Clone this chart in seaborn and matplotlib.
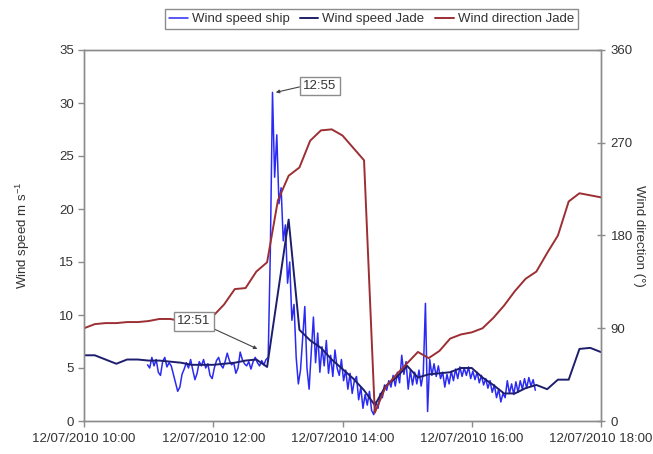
import matplotlib
matplotlib.use("Agg")
import matplotlib.pyplot as plt
import matplotlib.dates as mdates
import pandas as pd
import seaborn as sns

# --- data ---
day = "2010-07-12 "

jade_speed_times = ["10:00", "10:10", "10:20", "10:30", "10:40", "10:50",
                    "11:00", "11:10", "11:20", "11:30", "11:40", "11:50",
                    "12:00", "12:10", "12:20", "12:30", "12:40", "12:50",
                    "13:10", "13:20", "13:30", "13:40", "13:50",
                    "14:00", "14:10", "14:20", "14:30", "14:40", "14:50",
                    "15:00", "15:10", "15:20", "15:30", "15:40", "15:50",
                    "16:00", "16:10", "16:20", "16:30", "16:40", "16:50",
                    "17:00", "17:10", "17:20", "17:30", "17:40", "17:50", "18:00"]
jade_speed = [6.2, 6.2, 5.8, 5.4, 5.8, 5.8,
              5.7, 5.7, 5.6, 5.5, 5.3, 5.3,
              5.3, 5.4, 5.5, 5.7, 5.8, 5.1,
              19.0, 8.6, 7.6, 6.9, 5.8,
              4.9, 4.0, 2.9, 1.5, 3.3, 4.1,
              5.2, 4.1, 4.4, 4.5, 4.6, 5.0,
              5.0, 4.1, 3.4, 2.6, 2.6, 3.1,
              3.4, 3.0, 3.9, 3.9, 6.8, 6.9, 6.5]

jade_dir_times = ["10:00", "10:10", "10:20", "10:30", "10:40", "10:50",
                  "11:00", "11:10", "11:20", "11:30", "11:40", "11:50",
                  "12:00", "12:10", "12:20", "12:30", "12:40", "12:50",
                  "13:00", "13:10", "13:20", "13:30", "13:40", "13:50",
                  "14:00", "14:10", "14:20", "14:30", "14:40", "14:50",
                  "15:00", "15:10", "15:20", "15:30", "15:40", "15:50",
                  "16:00", "16:10", "16:20", "16:30", "16:40", "16:50",
                  "17:00", "17:10", "17:20", "17:30", "17:40", "17:50", "18:00"]
jade_dir = [90, 94, 95, 95, 96, 96,
            97, 99, 99, 97, 97, 98,
            102, 113, 128, 129, 145, 154,
            214, 238, 246, 272, 282, 283,
            277, 265, 253, 8, 33, 45,
            56, 67, 61, 68, 80, 84,
            86, 90, 100, 112, 126, 138,
            145, 163, 180, 213, 221, 219, 217]

# ship record, every 2 minutes from 10:59
ship_start = "10:59"
ship_speed = [5.3, 5.0, 6.0, 5.2, 5.8, 4.6, 4.3, 5.6, 6.0, 5.1,
              5.5, 5.2, 4.4, 3.6, 2.8, 3.2, 4.4, 4.9, 5.5, 5.0,
              5.8, 4.8, 3.9, 4.5, 5.6, 5.2, 5.8, 5.0, 5.4, 4.3,
              4.0, 5.0, 5.7, 6.0, 5.3, 5.0, 5.6, 6.4, 5.7, 5.3,
              5.5, 4.5, 5.0, 6.5, 5.8, 5.4, 5.2, 5.6, 4.9, 5.6,
              6.0, 5.5, 5.2, 5.7, 5.3, 5.8, 6.0, 16.0, 31.0, 23.0,
              27.0, 20.5, 22.0, 17.0, 18.5, 13.0, 15.0, 9.5, 11.0, 6.0,
              3.5, 4.8, 7.8, 10.8, 5.0, 3.0, 6.5, 9.8, 5.5, 8.3,
              4.6, 7.0, 5.2, 7.6, 4.5, 6.2, 4.2, 6.7, 5.0, 4.3,
              5.8, 3.8, 4.8, 3.0, 4.5, 2.6, 3.8, 4.2, 2.0, 3.2,
              1.2, 2.5, 1.5, 2.8, 1.0, 0.6, 1.8, 1.2, 2.6, 2.2,
              3.4, 2.9, 3.8, 3.2, 4.3, 3.3, 4.6, 3.6, 6.2, 4.4,
              5.6, 3.0, 4.8, 3.4, 4.6, 3.5, 4.8, 3.3, 4.5, 11.1,
              0.9, 5.8, 4.3, 5.4, 4.2, 5.2, 4.0, 4.6, 3.2, 4.4,
              3.5, 4.7, 3.8, 4.9, 4.0, 5.1, 4.2, 5.0, 4.3, 5.1,
              4.0, 4.7, 3.9, 4.6, 3.6, 4.3, 3.4, 4.0, 3.1, 3.8,
              2.7, 3.4, 2.2, 3.0, 1.8, 2.6, 2.2, 3.8, 2.6, 3.5,
              2.5, 3.7, 2.7, 3.8, 3.0, 4.0, 3.1, 4.1, 3.3, 3.9,
              2.9]

speed_ticks = [0, 5, 10, 15, 20, 25, 30, 35]
dir_ticks = [0, 90, 180, 270, 360]
x_start, x_end = "10:00", "18:00"

ship_color = "#2a2af2"
jade_color = "#1e1e6e"
dir_color = "#9c2f33"
grey = "#8c8c8c"
text_color = "#333333"

# --- frames ---
jade_df = pd.DataFrame({"time": pd.to_datetime([day + t for t in jade_speed_times]),
                        "speed": jade_speed})
dir_df = pd.DataFrame({"time": pd.to_datetime([day + t for t in jade_dir_times]),
                       "direction": jade_dir})
ship_df = pd.DataFrame({"time": pd.date_range(day + ship_start, periods=len(ship_speed), freq="2min"),
                        "speed": ship_speed})

sns.set_style("white")
plt.rcParams["font.family"] = ["Liberation Sans", "DejaVu Sans"]

fig = plt.figure(figsize=(6.53, 4.54), dpi=100)
ax = fig.add_axes([84 / 653, 1 - 421 / 454, (601 - 84) / 653, (421 - 50) / 454])
ax2 = ax.twinx()

sns.lineplot(data=ship_df, x="time", y="speed", ax=ax, color=ship_color,
             linewidth=1.1, label="Wind speed ship", legend=False)
sns.lineplot(data=jade_df, x="time", y="speed", ax=ax, color=jade_color,
             linewidth=1.4, label="Wind speed Jade", legend=False)
sns.lineplot(data=dir_df, x="time", y="direction", ax=ax2, color=dir_color,
             linewidth=1.4, label="Wind direction Jade", legend=False)

ax.set_xlim(pd.Timestamp(day + x_start), pd.Timestamp(day + x_end))
ax.set_ylim(0, 35)
ax.set_yticks(speed_ticks)
ax2.set_ylim(0, 360)
ax2.set_yticks(dir_ticks)

ax.xaxis.set_major_locator(mdates.HourLocator(byhour=[10, 12, 14, 16, 18]))
ax.xaxis.set_major_formatter(mdates.DateFormatter("%d/%m/%Y %H:%M"))

for a in (ax, ax2):
    for sp in a.spines.values():
        sp.set_color(grey)
        sp.set_linewidth(1.0)
    a.set_xlabel("")

ax.tick_params(axis="both", colors=grey, labelcolor=text_color, labelsize=9.5,
               length=4, width=1, direction="out", left=True, bottom=True, pad=3)
ax.tick_params(axis="x", pad=5)
ax2.tick_params(axis="y", colors=grey, labelcolor=text_color, labelsize=9.5,
                length=6, width=1, direction="inout", right=True, pad=4)

ax.set_ylabel("Wind speed m s$^{\\mathregular{-1}}$", fontsize=9.5, color=text_color, labelpad=20)
ax2.set_ylabel("Wind direction (°)", fontsize=9.5, color=text_color, rotation=270, labelpad=9)


def at(t):
    return mdates.date2num(pd.Timestamp(day + t))


# annotations drawn on top of both axes
box = dict(boxstyle="square,pad=0.25", fc="white", ec=grey, lw=1)
ax2.annotate("12:55", xy=(at("12:58"), 31.0), xycoords=ax.transData,
             xytext=(at("13:39"), 31.6), textcoords=ax.transData,
             fontsize=9.5, color=text_color, ha="center", va="center", bbox=box, zorder=10,
             arrowprops=dict(arrowstyle="-|>", color="#444444", lw=0.8,
                             mutation_scale=5, relpos=(0, 0.5), shrinkA=0, shrinkB=0))
ax2.annotate("12:51", xy=(at("12:41"), 6.8), xycoords=ax.transData,
             xytext=(at("11:42"), 9.4), textcoords=ax.transData,
             fontsize=9.5, color=text_color, ha="center", va="center", bbox=box, zorder=10,
             arrowprops=dict(arrowstyle="-|>", color="#444444", lw=0.8,
                             mutation_scale=5, relpos=(1, 0), shrinkA=0, shrinkB=0))

handles = ax.get_lines()[:2] + ax2.get_lines()[:1]
labels = [h.get_label() for h in handles]
fig.legend(handles, labels, ncol=3, loc="center", bbox_to_anchor=(371.5 / 653, 1 - 19 / 454),
           fontsize=9.5, frameon=True, fancybox=False, edgecolor=grey, framealpha=1,
           handlelength=1.4, handletextpad=0.3, columnspacing=0.8, borderpad=0.3,
           labelcolor=text_color)

fig.savefig("out.png", dpi=100)
